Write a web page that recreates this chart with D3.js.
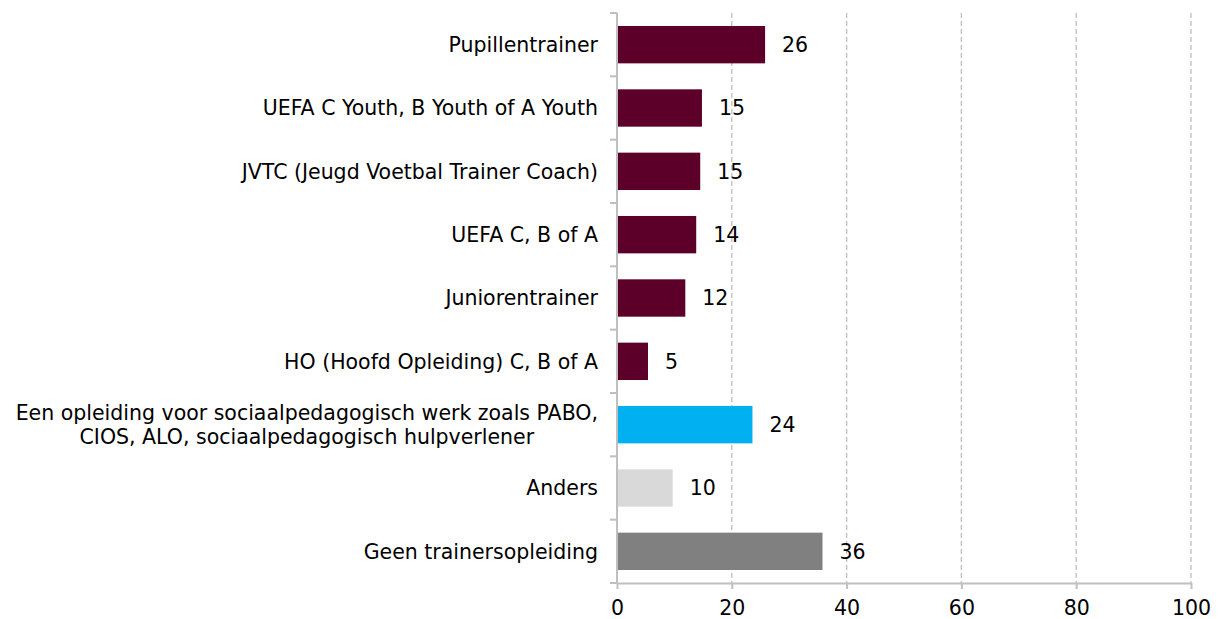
<!DOCTYPE html>
<html><head><meta charset="utf-8">
<script src="https://cdn.jsdelivr.net/npm/d3@7"></script>
<style>body{margin:0;background:#fff}svg{display:block}text{font-family:"DejaVu Sans",sans-serif}</style>
</head><body><div id="chart"></div>
<script>
const categories = [
  ["Pupillentrainer"],
  ["UEFA C Youth, B Youth of A Youth"],
  ["JVTC (Jeugd Voetbal Trainer Coach)"],
  ["UEFA C, B of A"],
  ["Juniorentrainer"],
  ["HO (Hoofd Opleiding) C, B of A"],
  ["Een opleiding voor sociaalpedagogisch werk zoals PABO,", "CIOS, ALO, sociaalpedagogisch hulpverlener"],
  ["Anders"],
  ["Geen trainersopleiding"]
];
const values = [25.8, 14.8, 14.5, 13.8, 11.9, 5.4, 23.6, 9.7, 35.8];
const valueLabels = ["26", "15", "15", "14", "12", "5", "24", "10", "36"];
const colors = ["#5c0029","#5c0029","#5c0029","#5c0029","#5c0029","#5c0029","#00b0f0","#d9d9d9","#808080"];
const xTicks = [0, 20, 40, 60, 80, 100];

const W = 1219, H = 619;
const FS = 20.5;
const m = {left: 617, right: 28, top: 13, bottom: 36};
const svg = d3.select("#chart").append("svg").attr("width", W).attr("height", H);
const x = d3.scaleLinear().domain([0, 100]).range([m.left, W - m.right]);
const y = d3.scaleBand().domain(d3.range(categories.length)).range([m.top, H - m.bottom]).paddingInner(0.41).paddingOuter(0.205);

const axisColor = "#bfbfbf";
// gridlines
svg.append("g").selectAll("line").data(xTicks.filter(d => d > 0)).join("line")
  .attr("x1", d => x(d)).attr("x2", d => x(d))
  .attr("y1", m.top).attr("y2", H - m.bottom)
  .attr("stroke", axisColor).attr("stroke-width", 1.3).attr("stroke-dasharray", "5,3");

// bars
svg.append("g").selectAll("rect").data(values).join("rect")
  .attr("x", x(0)).attr("y", (d, i) => y(i))
  .attr("width", d => x(d) - x(0)).attr("height", y.bandwidth())
  .attr("fill", (d, i) => colors[i]);

// value labels
svg.append("g").selectAll("text").data(values).join("text")
  .attr("x", d => x(d) + 17).attr("y", (d, i) => y(i) + y.bandwidth() / 2)
  .attr("dy", "0.36em").attr("font-size", FS).attr("fill", "#000")
  .text((d, i) => valueLabels[i]);

// x axis
const xAxis = svg.append("g").attr("transform", `translate(0,${H - m.bottom})`)
  .call(d3.axisBottom(x).tickValues(xTicks).tickSize(6).tickPadding(11).tickSizeOuter(0));
xAxis.select(".domain").attr("stroke", axisColor).attr("stroke-width", 2);
xAxis.selectAll(".tick line").attr("stroke", axisColor).attr("stroke-width", 2);
xAxis.selectAll(".tick text").attr("font-size", FS).attr("fill", "#000").attr("font-family", "DejaVu Sans");

// y axis
const step = y.step();
const yAxisG = svg.append("g");
yAxisG.append("line").attr("x1", m.left).attr("x2", m.left).attr("y1", m.top).attr("y2", H - m.bottom)
  .attr("stroke", axisColor).attr("stroke-width", 2);
yAxisG.selectAll("line.tk").data(d3.range(categories.length + 1)).join("line").attr("class", "tk")
  .attr("x1", m.left - 7).attr("x2", m.left)
  .attr("y1", i => m.top + i * step).attr("y2", i => m.top + i * step)
  .attr("stroke", axisColor).attr("stroke-width", 2);

// category labels
const lab = svg.append("g").selectAll("text").data(categories).join("text")
  .attr("font-size", FS).attr("fill", "#000")
  .attr("transform", (d, i) => `translate(${m.left - 19},${y(i) + y.bandwidth() / 2})`);
lab.each(function(lines) {
  const t = d3.select(this);
  const n = lines.length, lh = 24;
  const spans = lines.map((l, j) =>
    t.append("tspan").attr("x", 0).attr("y", (j - (n - 1) / 2) * lh).attr("dy", "0.36em").text(l));
  if (n === 1) {
    t.attr("text-anchor", "end");
  } else {
    const widths = spans.map(s => s.node().getComputedTextLength());
    const maxW = Math.max(...widths);
    t.attr("text-anchor", "middle");
    spans.forEach(s => s.attr("x", -maxW / 2));
  }
});
</script></body></html>
